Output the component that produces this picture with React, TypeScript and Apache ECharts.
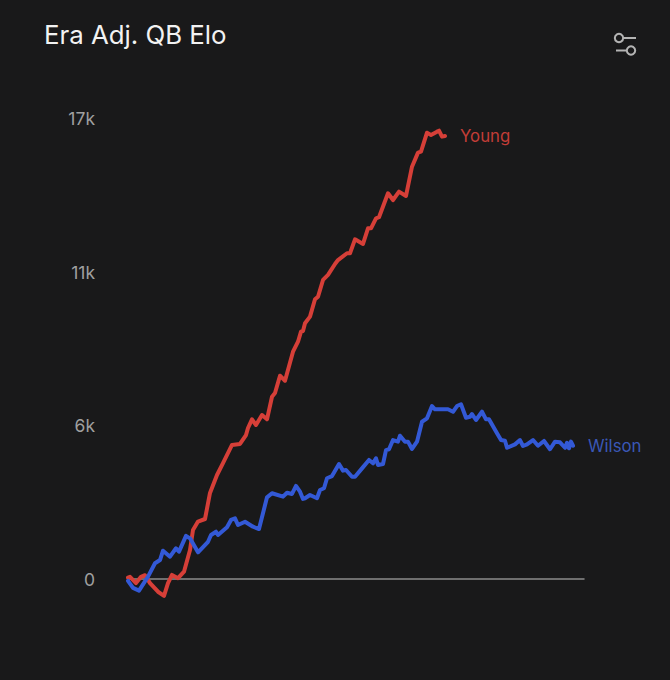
import React, { useEffect, useRef } from "react";
import * as echarts from "echarts";

const titleText = "Era Adj. QB Elo";
const yTicksMax = 17000;
const yTickStep = 17000 / 3;
const xMax = 456;

const youngName = "Young";
const youngX = [0, 2, 8, 13, 17, 22, 30, 36, 40, 44, 50, 56, 62, 65, 70, 77, 82, 89, 95, 104, 112, 118, 120, 124, 128, 134, 139, 144, 147, 152, 157, 165, 170, 173, 175, 177, 182, 187, 190, 195, 200, 207, 210, 219, 222, 227, 235, 240, 243, 248, 251, 260, 265, 271, 278, 284, 290, 293, 299, 303, 309, 311, 314, 317];
const youngY = [50, 80, -150, 80, 140, -150, -470, -620, -150, 150, 30, 270, 1070, 1810, 2120, 2215, 3175, 3840, 4280, 4950, 4985, 5315, 5575, 5895, 5685, 6055, 5895, 6730, 6865, 7505, 7320, 8390, 8760, 9130, 9155, 9440, 9685, 10325, 10420, 11040, 11225, 11630, 11775, 12025, 12025, 12540, 12370, 12945, 12945, 13315, 13355, 14240, 13990, 14300, 14140, 15220, 15740, 15775, 16475, 16395, 16515, 16550, 16330, 16355];

const wilsonName = "Wilson";
const wilsonX = [0, 5, 11, 20, 27, 32, 35, 42, 48, 51, 58, 62, 70, 80, 83, 88, 90, 99, 103, 107, 110, 117, 125, 131, 139, 144, 155, 159, 164, 168, 172, 175, 177, 182, 189, 192, 196, 199, 204, 211, 215, 218, 224, 227, 234, 241, 245, 248, 250, 255, 258, 261, 265, 270, 272, 277, 280, 284, 289, 294, 299, 304, 307, 315, 320, 325, 329, 333, 338, 342, 344, 348, 354, 358, 361, 369, 373, 377, 379, 387, 392, 395, 399, 405, 410, 416, 422, 427, 432, 437, 439, 441, 443, 445];
const wilsonY = [-70, -330, -430, 85, 580, 700, 1045, 825, 1135, 1010, 1590, 1500, 985, 1375, 1625, 1745, 1625, 1910, 2180, 2240, 1995, 2115, 1930, 1845, 3015, 3165, 3040, 3185, 3140, 3435, 3225, 2955, 2980, 3100, 2980, 3285, 3350, 3720, 3800, 4245, 4000, 4025, 3775, 3775, 4085, 4395, 4270, 4455, 4210, 4245, 4760, 4790, 5130, 5070, 5290, 5070, 5070, 4800, 5070, 5805, 5930, 6385, 6265, 6265, 6265, 6175, 6385, 6450, 5955, 5990, 6090, 5870, 6175, 5895, 5895, 5380, 5130, 5105, 4845, 4970, 5130, 4910, 4970, 5130, 4920, 5095, 4790, 5070, 5045, 4845, 5030, 4825, 5070, 4920];

const pair = (xs: number[], ys: number[]) => xs.map((x, i) => [x, ys[i]]);

const FONT = "Inter";
const BG = "#19191a";
const ICON = "#b4b4b4";

const makeSeries = (name: string, xs: number[], ys: number[], lineColor: string, labelColor: string) => ({
  name,
  type: "line",
  data: pair(xs, ys),
  showSymbol: false,
  symbol: "none",
  clip: false,
  smooth: false,
  lineStyle: { color: lineColor, width: 4, join: "round", cap: "round" },
  itemStyle: { color: lineColor },
  endLabel: {
    show: true,
    formatter: "{a}",
    color: labelColor,
    fontFamily: FONT,
    fontSize: 16.8,
    distance: 15,
  },
});

export default function App() {
  const ref = useRef<HTMLDivElement>(null);
  useEffect(() => {
    const chart = echarts.init(ref.current!, undefined, { renderer: "svg" });
    chart.setOption({
      animation: false,
      backgroundColor: BG,
      title: {
        text: titleText,
        left: 44,
        top: 21,
        padding: 0,
        textStyle: { color: "#f2f2f2", fontFamily: FONT, fontSize: 25.8, fontWeight: 400 },
      },
      grid: { left: 128, top: 118.5, width: xMax, height: 460.5 },
      xAxis: {
        type: "value",
        min: 0,
        max: xMax,
        axisTick: { show: false },
        axisLabel: { show: false },
        splitLine: { show: false },
        axisLine: { show: true, onZero: false, lineStyle: { color: "#8c8c8c", width: 1.5 } },
      },
      yAxis: {
        type: "value",
        min: 0,
        max: yTicksMax,
        interval: yTickStep,
        axisLine: { show: false },
        axisTick: { show: false },
        splitLine: { show: false },
        axisLabel: {
          color: "#a0a0a0",
          fontFamily: FONT,
          fontSize: 17.5,
          margin: 33,
          formatter: (v: number) => (v === 0 ? "0" : `${Math.round(v / 1000)}k`),
        },
      },
      series: [
        makeSeries(youngName, youngX, youngY, "#d63f38", "#c23d37"),
        makeSeries(wilsonName, wilsonX, wilsonY, "#3359d6", "#3a57b5"),
      ],
      graphic: [
        { type: "line", shape: { x1: 623, y1: 38, x2: 636, y2: 38 }, style: { stroke: ICON, lineWidth: 2 } },
        { type: "circle", shape: { cx: 619, cy: 38, r: 4.2 }, style: { fill: "none", stroke: ICON, lineWidth: 2 } },
        { type: "line", shape: { x1: 616, y1: 50.5, x2: 627, y2: 50.5 }, style: { stroke: ICON, lineWidth: 2 } },
        { type: "circle", shape: { cx: 631, cy: 50.5, r: 4.2 }, style: { fill: "none", stroke: ICON, lineWidth: 2 } },
      ],
    });
    return () => chart.dispose();
  }, []);
  return (
    <div
      ref={ref}
      style={{ position: "fixed", left: 0, top: 0, width: 670, height: 680 }}
    />
  );
}
